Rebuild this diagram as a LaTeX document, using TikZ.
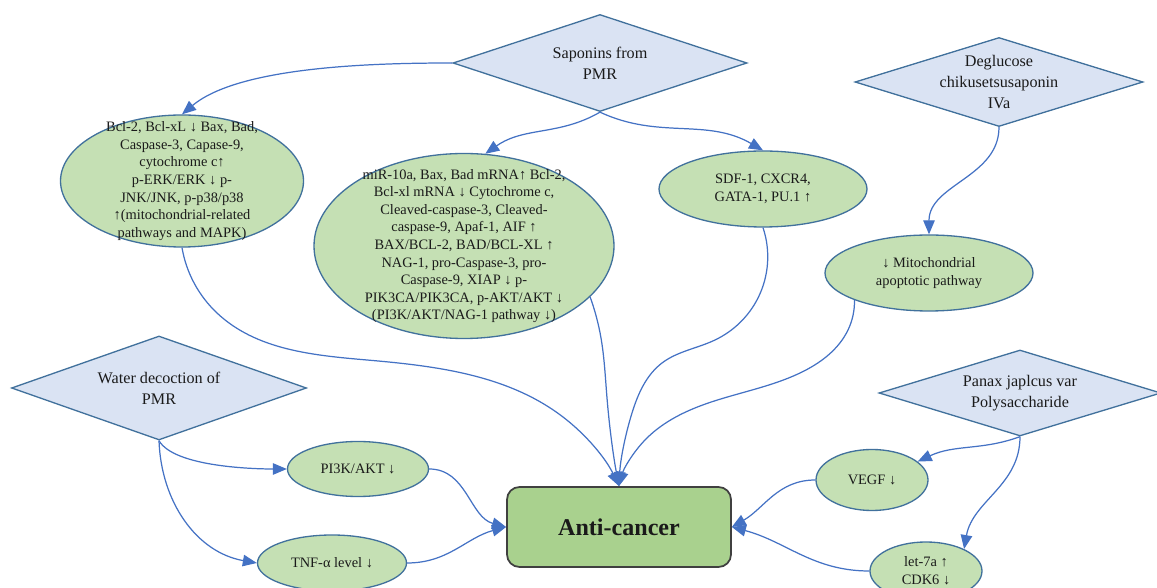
\documentclass[tikz,border=0pt]{standalone}
\usepackage{fontspec}
\setmainfont{Liberation Serif}
\usetikzlibrary{shapes.geometric,arrows.meta,hobby}
\definecolor{leaf}{HTML}{C5E0B4}
\definecolor{moss}{HTML}{A9D18E}
\definecolor{sky}{HTML}{DAE3F3}
\definecolor{rim}{HTML}{41719C}
\definecolor{wire}{HTML}{4472C4}
\definecolor{ink}{HTML}{1A1A1A}

\begin{document}
\begin{tikzpicture}[x=0.2mm, y=0.2mm,
  >={Triangle[length=2.8mm,width=2.3mm]},
  txt/.style={align=center, inner sep=0, text=ink, font=\fontsize{8.2}{10}\selectfont},
  big/.style={txt, font=\fontsize{9.2}{11.8}\selectfont},
  cell/.style={ellipse, draw=rim, fill=leaf, line width=0.75pt, inner sep=0},
  herb/.style={diamond, draw=rim, fill=sky, line width=0.75pt, inner sep=0},
  link/.style={->, draw=wire, line width=0.7pt}]
  \useasboundingbox (0,0) rectangle (1157,588);

  \node[herb, minimum width=58.8mm, minimum height=19.4mm,
    label={[big]center:Saponins from\\PMR}] (sap) at (600,525) {};
  \node[herb, minimum width=57.6mm, minimum height=17.8mm,
    label={[big]center:Deglucose\\chikusetsusaponin\\IVa}] (deg) at (999,506) {};
  \node[herb, minimum width=59mm, minimum height=20.8mm,
    label={[big]center:Water decoction of\\PMR}] (wat) at (159,200) {};
  \node[herb, minimum width=56.4mm, minimum height=17.2mm,
    label={[big]center:Panax japlcus var\\Polysaccharide}] (pan) at (1020,195) {};

  \node[cell, minimum width=48.6mm, minimum height=26.4mm,
    label={[txt]center:Bcl-2, Bcl-xL ↓ Bax, Bad,\\Caspase-3, Capase-9,\\cytochrome c↑\\p-ERK/ERK ↓ p-\\JNK/JNK, p-p38/p38\\↑(mitochondrial-related\\pathways and MAPK)}] (e1) at (182,407) {};
  \node[cell, minimum width=60mm, minimum height=37mm,
    label={[txt]center:miR-10a, Bax, Bad mRNA↑ Bcl-2,\\Bcl-xl mRNA ↓ Cytochrome c,\\Cleaved-caspase-3, Cleaved-\\caspase-9, Apaf-1, AIF ↑\\BAX/BCL-2, BAD/BCL-XL ↑\\NAG-1, pro-Caspase-3, pro-\\Caspase-9, XIAP ↓ p-\\PIK3CA/PIK3CA, p-AKT/AKT ↓\\(PI3K/AKT/NAG-1 pathway ↓)}] (e2) at (464,342) {};
  \node[cell, minimum width=41.6mm, minimum height=15.2mm,
    label={[txt]center:SDF-1, CXCR4,\\GATA-1, PU.1 ↑}] (e3) at (763,399) {};
  \node[cell, minimum width=41.6mm, minimum height=15.2mm,
    label={[txt]center:↓ Mitochondrial\\apoptotic pathway}] (e4) at (929,315) {};
  \node[cell, minimum width=28.2mm, minimum height=11mm,
    label={[txt]center:PI3K/AKT ↓}] (e5) at (358,119) {};
  \node[cell, minimum width=29.8mm, minimum height=11.2mm,
    label={[txt]center:TNF-α level ↓}] (e6) at (332,25) {};
  \node[cell, minimum width=22.4mm, minimum height=12.2mm,
    label={[txt]center:VEGF ↓}] (e7) at (872,108) {};
  \node[cell, minimum width=22.4mm, minimum height=11.6mm,
    label={[txt]center:let-7a ↑\\CDK6 ↓}] (e8) at (926,17) {};

  \node[draw=black!75, fill=moss, rounded corners=2.5mm, line width=1pt,
    minimum width=44.8mm, minimum height=16mm, text=ink,
    font=\fontsize{13.7}{16}\selectfont\bfseries] (ac) at (619,61) {Anti-cancer};

  \draw[link] (sap.west) to[out=180, in=40, looseness=0.7] (e1.north);
  \draw[link] (sap.south) to[out=-150, in=35] (e2.77);
  \draw[link] (sap.south) to[out=-25, in=150] (e3.north);
  \draw[link] (deg.south) to[out=-90, in=90] (e4.north);
  \draw[link] (e1.south) to[curve through={(217,275) (367,228) (563,171)}] (ac.north);
  \draw[link] (e2.338) to[curve through={(601,250) (607,190)}] (ac.north);
  \draw[link] (e3.south) to[curve through={(758,290) (715,248) (662,225) (632,175)}] (ac.north);
  \draw[link] (e4.200) to[curve through={(848,258) (800,215) (700,182) (645,148)}] (ac.north);
  \draw[link] (wat.south) to[out=-60, in=180, looseness=0.6] (e5.west);
  \draw[link] (wat.south) to[out=-88, in=170] (e6.west);
  \draw[link] (e5.east) to[out=0, in=165] (ac.west);
  \draw[link] (e6.east) to[out=0, in=195] (ac.west);
  \draw[link] (pan.south) to[out=-160, in=25] (e7.22);
  \draw[link] (pan.south) to[out=-90, in=80] (e8.30);
  \draw[link] (e7.west) to[out=180, in=30] (ac.east);
  \draw[link] (e8.west) to[out=180, in=-15] (ac.east);
\end{tikzpicture}
\end{document}
